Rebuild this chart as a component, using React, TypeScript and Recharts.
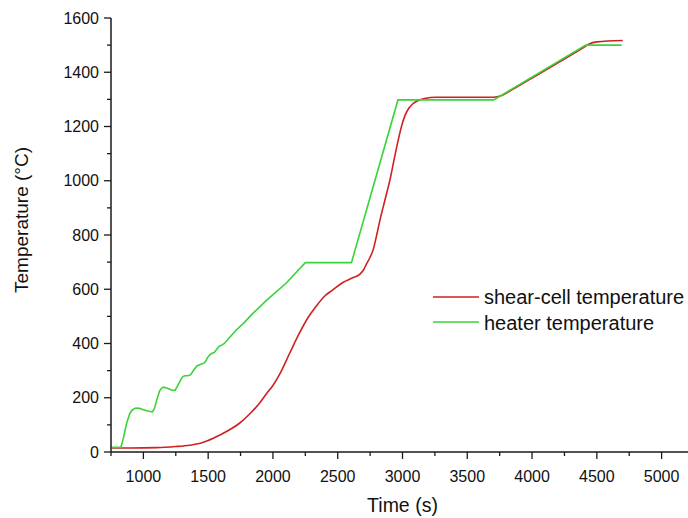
import React from 'react';
import { LineChart, Line, XAxis, YAxis } from 'recharts';

const heaterTime = [755, 827, 845, 870, 896, 915, 935, 955, 975, 1000, 1040, 1070, 1085, 1105, 1125, 1140, 1155, 1175, 1200, 1225, 1245, 1265, 1290, 1305, 1320, 1345, 1365, 1390, 1415, 1435, 1455, 1475, 1495, 1512, 1530, 1545, 1565, 1588, 1605, 1625, 1660, 1717, 1780, 1845, 1950, 2101, 2250, 2606, 2965, 3704, 4415, 4691];
const heaterTemp = [17, 17, 50, 105, 143, 155, 161, 162, 160, 156, 150, 148, 160, 195, 225, 235, 239, 237, 232, 227, 228, 245, 268, 278, 281, 281, 285, 303, 318, 322, 325, 330, 348, 358, 364, 366, 378, 391, 394, 400, 419, 450, 478, 511, 559, 622, 698, 698, 1298, 1298, 1500, 1500];

const cellTime = [755, 900, 1101, 1250, 1358, 1440, 1500, 1588, 1665, 1742, 1820, 1896, 1950, 2000, 2050, 2130, 2204, 2270, 2332, 2400, 2460, 2540, 2620, 2672, 2700, 2724, 2750, 2775, 2800, 2826, 2865, 2903, 2935, 2967, 2995, 3019, 3050, 3083, 3130, 3178, 3255, 3704, 3760, 3850, 4000, 4200, 4400, 4440, 4500, 4700];
const cellTemp = [15, 15, 16, 20, 25, 32, 42, 62, 82, 106, 140, 180, 215, 245, 285, 365, 438, 495, 536, 575, 597, 625, 643, 656, 672, 695, 718, 748, 798, 855, 930, 1003, 1078, 1150, 1205, 1240, 1268, 1285, 1298, 1304, 1308, 1308, 1313, 1337, 1379, 1435, 1492, 1504, 1512, 1517];

const xTicks = [750, 1000, 1250, 1500, 1750, 2000, 2250, 2500, 2750, 3000, 3250, 3500, 3750, 4000, 4250, 4500, 4750, 5000, 5250];
const yTicks = [0, 100, 200, 300, 400, 500, 600, 700, 800, 900, 1000, 1100, 1200, 1300, 1400, 1500, 1600];

const seriesNames = ['shear-cell temperature', 'heater temperature'];
const seriesColors = ['#d02020', '#38d438'];

const heaterData = heaterTime.map((t, i) => ({ t, v: heaterTemp[i] }));
const cellData = cellTime.map((t, i) => ({ t, v: cellTemp[i] }));

const FONT = '"Liberation Sans", Arial, sans-serif';
const AXIS = '#1a1a1a';

const XTick = (props: any) => {
  const { x, y, payload } = props;
  const major = payload.value % 500 === 0;
  return (
    <g>
      <line x1={x} x2={x} y1={y} y2={y + (major ? 7 : 4)} stroke={AXIS} strokeWidth={1.3} />
      {major && (
        <text x={x} y={y + 29.5} textAnchor="middle" fontFamily={FONT} fontSize={16} fill="#111">
          {payload.value}
        </text>
      )}
    </g>
  );
};

const YTick = (props: any) => {
  const { x, y, payload } = props;
  const major = payload.value % 200 === 0;
  return (
    <g>
      <line x1={x - (major ? 7 : 4)} x2={x} y1={y} y2={y} stroke={AXIS} strokeWidth={1.3} />
      {major && (
        <text x={x - 12} y={y + 5.5} textAnchor="end" fontFamily={FONT} fontSize={16} fill="#111">
          {payload.value}
        </text>
      )}
    </g>
  );
};

export default function App() {
  return (
    <div style={{ position: 'absolute', left: 0, top: 0, width: 688, height: 518, overflow: 'hidden', background: '#fff' }}>
      <LineChart width={700} height={518} margin={{ top: 18, right: 6, left: 0, bottom: 0 }}>
        <XAxis
          type="number"
          dataKey="t"
          domain={[750, 5250]}
          ticks={xTicks}
          interval={0}
          tick={<XTick />}
          tickLine={false}
          tickSize={0}
          tickMargin={0}
          height={66}
          axisLine={{ stroke: AXIS, strokeWidth: 1.5 }}
          allowDataOverflow
        />
        <YAxis
          type="number"
          domain={[0, 1600]}
          ticks={yTicks}
          interval={0}
          tick={<YTick />}
          tickLine={false}
          tickSize={0}
          tickMargin={0}
          width={111}
          axisLine={{ stroke: AXIS, strokeWidth: 1.5 }}
          allowDataOverflow
        />
        <Line data={cellData} dataKey="v" type="monotone" stroke={seriesColors[0]} strokeWidth={1.6} dot={false} isAnimationActive={false} name={seriesNames[0]} />
        <Line data={heaterData} dataKey="v" type="linear" stroke={seriesColors[1]} strokeWidth={1.6} dot={false} isAnimationActive={false} name={seriesNames[1]} />
        <text x={402.5} y={511.5} textAnchor="middle" fontFamily={FONT} fontSize={19.5} fill="#111">Time (s)</text>
        <text x={28} y={220} textAnchor="middle" fontFamily={FONT} fontSize={19} fill="#111" transform="rotate(-90, 28, 220)">Temperature (°C)</text>
        <line x1={433} x2={479} y1={297} y2={297} stroke={seriesColors[0]} strokeWidth={1.6} />
        <text x={484} y={304} fontFamily={FONT} fontSize={20} fill="#111">{seriesNames[0]}</text>
        <line x1={433} x2={479} y1={322} y2={322} stroke={seriesColors[1]} strokeWidth={1.6} />
        <text x={484} y={330} fontFamily={FONT} fontSize={20} fill="#111">{seriesNames[1]}</text>
      </LineChart>
    </div>
  );
}
